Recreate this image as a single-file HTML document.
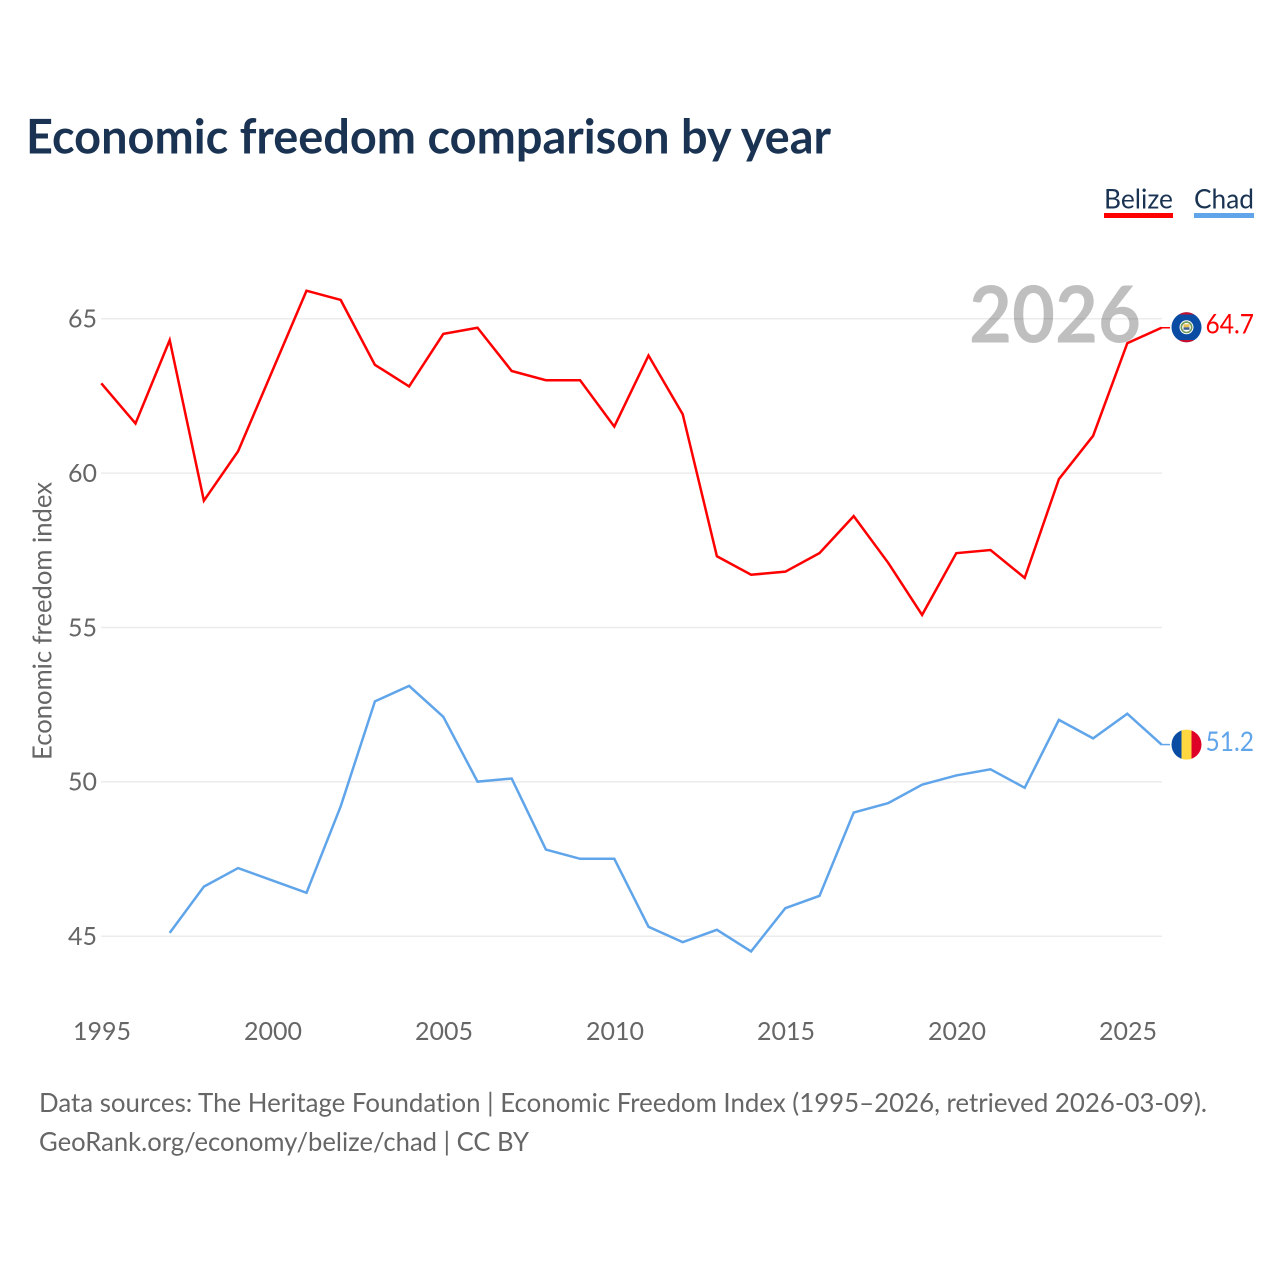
<!DOCTYPE html>
<html lang="en">
<head>
<meta charset="utf-8">
<title>Economic freedom comparison by year</title>
<style>
html,body{margin:0;padding:0;background:#fff;}
svg{display:block;font-family:"Lato","Carlito","Liberation Sans",sans-serif;font-variant-ligatures:none;}
</style>
</head>
<body>
<svg id="chart" xmlns="http://www.w3.org/2000/svg" width="1280" height="1280" viewBox="0 0 1280 1280">
  <defs>
    <clipPath id="belize-clip"><circle cx="1186.5" cy="327.3" r="15"/></clipPath>
    <clipPath id="chad-clip"><circle cx="1186.5" cy="744.6" r="15"/></clipPath>
  </defs>
  <rect x="0" y="0" width="1280" height="1280" fill="#ffffff"/>
  <text x="26" y="153.7" font-size="48" font-weight="700" fill="#1a3352" textLength="805" lengthAdjust="spacingAndGlyphs">Economic freedom comparison by year</text>

  <g>
    <g>
      <text x="1104" y="208.3" font-size="27.5" fill="#1a3352" textLength="69" lengthAdjust="spacingAndGlyphs">Belize</text>
      <rect x="1104" y="213" width="69" height="5" fill="#ff0000"/>
    </g>
    <g>
      <text x="1194" y="208.3" font-size="27.5" fill="#1a3352" textLength="60" lengthAdjust="spacingAndGlyphs">Chad</text>
      <rect x="1194" y="213" width="60" height="5" fill="#60a5ea"/>
    </g>
  </g>

  <g id="grid"></g>
  <g id="y-ticks"></g>
  <g id="x-ticks"></g>
  <text transform="translate(51.5,621) rotate(-90)" text-anchor="middle" font-size="26" fill="#666666" textLength="278" lengthAdjust="spacingAndGlyphs">Economic freedom index</text>
  <text x="969" y="342.7" font-size="79" font-weight="700" fill="#000000" fill-opacity="0.25" textLength="172" lengthAdjust="spacingAndGlyphs">2026</text>
  <g id="series"></g>

  <g clip-path="url(#belize-clip)">
    <rect x="1171" y="312" width="31" height="31" fill="#0a4ca3"/>
    <rect x="1171" y="312" width="31" height="2.5" fill="#c8102e"/>
    <rect x="1171" y="340" width="31" height="3" fill="#c8102e"/>
    <circle cx="1186.5" cy="327.3" r="7" fill="#ffffff"/>
    <circle cx="1186.5" cy="327.3" r="5.2" fill="none" stroke="#6f9a5a" stroke-width="1.6"/>
    <rect x="1183.5" y="324.3" width="6" height="3" fill="#e8c050"/>
    <rect x="1183.5" y="327.3" width="6" height="2.5" fill="#3f5f8f"/>
  </g>
  <g clip-path="url(#chad-clip)">
    <rect x="1171" y="729" width="10.5" height="31" fill="#0a4ca3"/>
    <rect x="1181.5" y="729" width="10" height="31" fill="#ffd740"/>
    <rect x="1191.5" y="729" width="10.5" height="31" fill="#df0028"/>
  </g>

  <text id="belize-value" x="1205.5" y="333.7" font-size="27" fill="#ff0000" textLength="48.5" lengthAdjust="spacingAndGlyphs"></text>
  <text id="chad-value" x="1205.5" y="751" font-size="27" fill="#60a5ea" textLength="48.5" lengthAdjust="spacingAndGlyphs"></text>

  <text x="39" y="1112" font-size="26" fill="#666666" textLength="1168" lengthAdjust="spacingAndGlyphs">Data sources: The Heritage Foundation | Economic Freedom Index (1995–2026, retrieved 2026-03-09).</text>
  <text x="39" y="1151" font-size="26" fill="#666666" textLength="490" lengthAdjust="spacingAndGlyphs">GeoRank.org/economy/belize/chad | CC BY</text>
</svg>
<script>
const years = [1995,1996,1997,1998,1999,2000,2001,2002,2003,2004,2005,2006,2007,2008,2009,2010,2011,2012,2013,2014,2015,2016,2017,2018,2019,2020,2021,2022,2023,2024,2025,2026];
const belizeValues = [62.9,61.6,64.3,59.1,60.7,63.3,65.9,65.6,63.5,62.8,64.5,64.7,63.3,63.0,63.0,61.5,63.8,61.9,57.3,56.7,56.8,57.4,58.6,57.1,55.4,57.4,57.5,56.6,59.8,61.2,64.2,64.7];
const chadValues = [null,null,45.1,46.6,47.2,46.8,46.4,49.2,52.6,53.1,52.1,50.0,50.1,47.8,47.5,47.5,45.3,44.8,45.2,44.5,45.9,46.3,49.0,49.3,49.9,50.2,50.4,49.8,52.0,51.4,52.2,51.2];
const xTickLabels = [1995,2000,2005,2010,2015,2020,2025];
const yTickLabels = [45,50,55,60,65];

const NS = 'http://www.w3.org/2000/svg';
function xScale(year){ return 101.3 + (year - 1995) * 34.2; }
function yScale(v){ return 318.5 + (65 - v) * 30.875; }

const gridGroup = document.getElementById('grid');
const yTickGroup = document.getElementById('y-ticks');
const xTickGroup = document.getElementById('x-ticks');
const seriesGroup = document.getElementById('series');

yTickLabels.forEach(function(v){
  const line = document.createElementNS(NS, 'line');
  
  
  line.setAttribute('x1', 101);
  line.setAttribute('x2', 1162);
  line.setAttribute('y1', yScale(v) + 0.3);
  line.setAttribute('y2', yScale(v) + 0.3);
  line.setAttribute('stroke', '#ececec');
  line.setAttribute('stroke-width', 1.5);
  gridGroup.appendChild(line);

  const label = document.createElementNS(NS, 'text');
  
  
  label.setAttribute('x', 97);
  label.setAttribute('y', yScale(v) + 9);
  label.setAttribute('text-anchor', 'end');
  label.setAttribute('font-size', 25);
  label.setAttribute('fill', '#666666');
  label.textContent = v;
  yTickGroup.appendChild(label);
});

xTickLabels.forEach(function(year){
  const label = document.createElementNS(NS, 'text');
  
  
  label.setAttribute('x', xScale(year) + 0.7);
  label.setAttribute('y', 1040);
  label.setAttribute('text-anchor', 'middle');
  label.setAttribute('font-size', 25);
  label.setAttribute('fill', '#666666');
  label.textContent = year;
  xTickGroup.appendChild(label);
});

function linePoints(values){
  const pts = [];
  values.forEach(function(v, i){
    if (v !== null) pts.push(xScale(years[i]).toFixed(2) + ',' + yScale(v).toFixed(2));
  });
  return pts.join(' ');
}

const belizeLine = document.createElementNS(NS, 'polyline');


belizeLine.setAttribute('points', linePoints(belizeValues));
belizeLine.setAttribute('fill', 'none');
belizeLine.setAttribute('stroke', '#ff0000');
belizeLine.setAttribute('stroke-width', 2.5);
seriesGroup.appendChild(belizeLine);

const chadLine = document.createElementNS(NS, 'polyline');


chadLine.setAttribute('points', linePoints(chadValues));
chadLine.setAttribute('fill', 'none');
chadLine.setAttribute('stroke', '#60a5ea');
chadLine.setAttribute('stroke-width', 2.5);
seriesGroup.appendChild(chadLine);

const lastBelize = belizeValues[belizeValues.length - 1];
const lastChad = chadValues[chadValues.length - 1];

const belizeConnector = document.createElementNS(NS, 'line');


belizeConnector.setAttribute('x1', 1161);
belizeConnector.setAttribute('x2', 1170);
belizeConnector.setAttribute('y1', yScale(lastBelize));
belizeConnector.setAttribute('y2', yScale(lastBelize));
belizeConnector.setAttribute('stroke', '#ff0000');
belizeConnector.setAttribute('stroke-width', 1.5);
seriesGroup.appendChild(belizeConnector);

const chadConnector = document.createElementNS(NS, 'line');


chadConnector.setAttribute('x1', 1161);
chadConnector.setAttribute('x2', 1170);
chadConnector.setAttribute('y1', yScale(lastChad));
chadConnector.setAttribute('y2', yScale(lastChad));
chadConnector.setAttribute('stroke', '#60a5ea');
chadConnector.setAttribute('stroke-width', 1.5);
seriesGroup.appendChild(chadConnector);

document.getElementById('belize-value').textContent = lastBelize.toFixed(1);
document.getElementById('chad-value').textContent = lastChad.toFixed(1);
</script>
</body>
</html>
